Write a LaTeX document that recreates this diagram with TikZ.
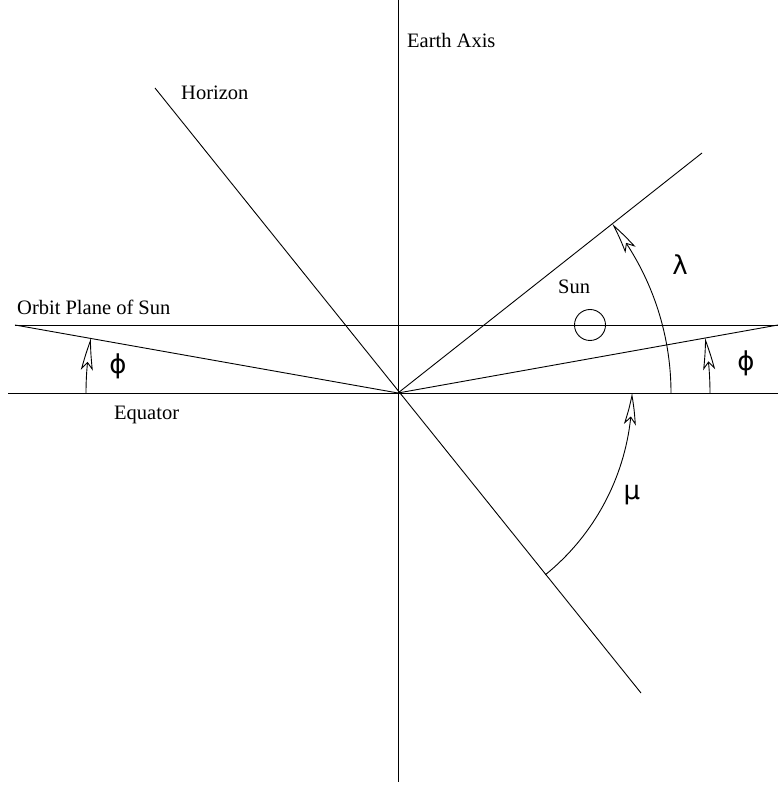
\documentclass[tikz,border=0pt]{standalone}
\usepackage{fontspec}
\setmainfont{Liberation Serif}
\newfontfamily\grk{DejaVu Sans}
\usetikzlibrary{arrows.meta,calc,bending}
\begin{document}
\begin{tikzpicture}[x=1pt,y=1pt,
  ln/.style={line width=0.9pt},
  arr/.style={line width=0.9pt,-{Stealth[open,length=32pt,width=12pt,inset=7pt,bend]}},
  lbl/.style={font=\fontsize{20.5}{24}\selectfont,inner sep=0pt,anchor=west},
  gk/.style={font=\grk\fontsize{26}{30}\selectfont,inner sep=0pt}]
\useasboundingbox (0,0) rectangle (778,785);
\coordinate (O) at (398,392);
\coordinate (axT) at (398,785);
\coordinate (axB) at (398,3);
\coordinate (eqL) at (8,392);
\coordinate (eqR) at (778,392);
\coordinate (obL) at (15,460);
\coordinate (obR) at (778,460);
\coordinate (hzT) at (155,697);
\coordinate (hzB) at (641,92);
\coordinate (ur) at (702,632);
% lines
\draw[ln] (axT) -- (axB);
\draw[ln] (eqL) -- (eqR);
\draw[ln] (obL) -- (obR);
\draw[ln] (obL) -- (O) -- (obR);
\draw[ln] (hzT) -- (hzB);
\draw[ln] (O) -- (ur);
% sun
\node[draw,circle,line width=0.9pt,minimum size=31pt,inner sep=0pt] (sun) at (590,460) {};
% arcs
\draw[arr] ($(O)+(0:273)$) arc[start angle=0,end angle=38.3,radius=273];
\draw[arr] ($(O)+(-51:234)$) arc[start angle=-51,end angle=0,radius=234];
\draw[arr] ($(O)+(180:312)$) arc[start angle=180,end angle=169.93,radius=312];
\draw[arr] ($(O)+(0:312)$) arc[start angle=0,end angle=10.15,radius=312];
% labels
\node[lbl] (earth) at (407,745) {Earth Axis};
\node[lbl] (horizon) at (181,692) {Horizon};
\node[lbl] (orbit) at (17,478) {Orbit Plane of Sun};
\node[lbl] (equator) at (114,370) {Equator};
\node[lbl] (sunl) at (558,498) {Sun};
\node[gk] (phiL) at (118,419) {ϕ};
\node[gk] (phiR) at (746,422) {ϕ};
\node[gk] (lam) at (680,520) {λ};
\node[gk] (mu) at (632,290) {μ};
\end{tikzpicture}
\end{document}
